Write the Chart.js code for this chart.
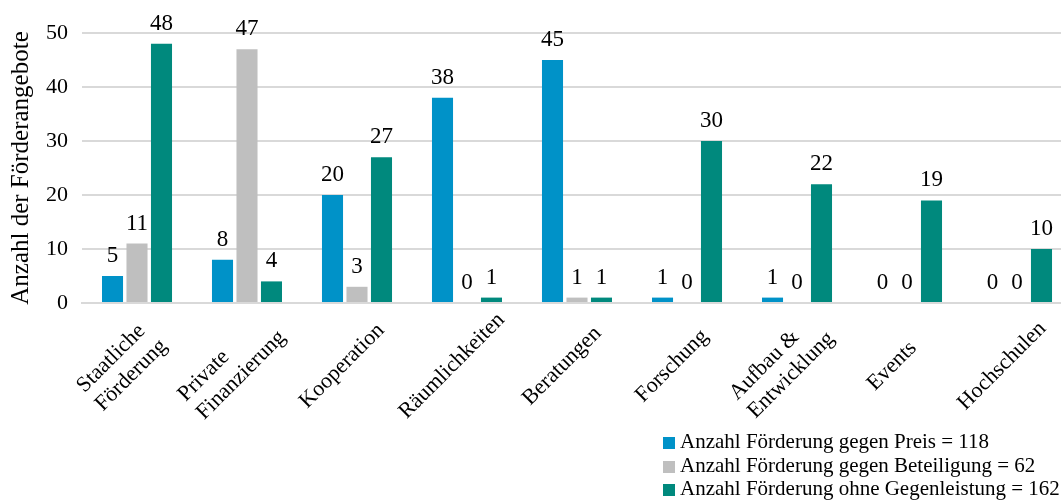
<!DOCTYPE html>
<html>
<head>
<meta charset="utf-8">
<script src="https://cdn.jsdelivr.net/npm/chart.js@4/dist/chart.umd.min.js"></script>
<style>
  html, body { margin: 0; padding: 0; background: #fff; overflow: hidden; }
  #wrap { position: relative; width: 1080px; height: 502px; }
  #legend { position: absolute; left: 663px; top: 430px; font-family: "Liberation Serif", "Times New Roman", serif; font-size: 21px; color: #000; white-space: nowrap; }
  #legend div { height: 23.5px; line-height: 23.5px; }
  #legend span { display: inline-block; width: 12px; height: 12px; margin-right: 5px; vertical-align: -1px; }
</style>
</head>
<body>
<div id="wrap">
  <canvas id="chart"></canvas>
  <div id="legend"></div>
</div>
<script>
// categories on the x axis (multi-line labels as arrays)
const categories = [
  ['Staatliche', 'Förderung'], ['Private', 'Finanzierung'], 'Kooperation', 'Räumlichkeiten',
  'Beratungen', 'Forschung', ['Aufbau &', 'Entwicklung'], 'Events', 'Hochschulen'
]
const gegenPreis       = [5, 8, 20, 38, 45, 1, 1, 0, 0]
const gegenBeteiligung = [11, 47, 3, 0, 1, 0, 0, 0, 0]
const ohneGegenleistung = [48, 4, 27, 1, 1, 30, 22, 19, 10]
const seriesNames = [
  'Anzahl Förderung gegen Preis = 118',
  'Anzahl Förderung gegen Beteiligung = 62',
  'Anzahl Förderung ohne Gegenleistung = 162'
]
const yTicks = [0, 10, 20, 30, 40, 50]
const colors = ['#0092C8', '#BFBFBF', '#00897D']

const FONT = '"Liberation Serif", "Times New Roman", serif'

// value labels above every bar, zeros included
const valueLabels = {
  id: 'valueLabels',
  afterDatasetsDraw(chart){
    const ctx = chart.ctx
    ctx.save()
    ctx.font = '23px ' + FONT
    ctx.fillStyle = '#000'
    ctx.textAlign = 'center'
    ctx.textBaseline = 'alphabetic'
    chart.data.datasets.forEach((ds, i) => {
      chart.getDatasetMeta(i).data.forEach((bar, j) => {
        ctx.fillText(String(ds.data[j]), bar.x, bar.y - 14)
      })
    })
    ctx.restore()
  }
}

// rotated category labels, lines left aligned like the office chart
const xLabels = {
  id: 'xLabels',
  afterDraw(chart){
    const ctx = chart.ctx, xs = chart.scales.x
    const lh = 26
    ctx.save()
    ctx.font = '22px ' + FONT
    ctx.fillStyle = '#000'
    ctx.textAlign = 'left'
    ctx.textBaseline = 'middle'
    categories.forEach((lab, i) => {
      const lines = Array.isArray(lab) ? lab : [lab]
      const w = Math.max(...lines.map(l => ctx.measureText(l).width))
      const h = lines.length * lh
      ctx.save()
      ctx.translate(xs.getPixelForTick(i) - 15, chart.chartArea.bottom + 63)
      ctx.rotate(-Math.PI / 4)
      lines.forEach((l, k) => ctx.fillText(l, -w / 2, -h / 2 + lh / 2 + k * lh))
      ctx.restore()
    })
    ctx.restore()
  }
}

const datasets = [gegenPreis, gegenBeteiligung, ohneGegenleistung].map((d, i) => ({
  label: seriesNames[i], data: d, backgroundColor: colors[i],
  categoryPercentage: 0.668, barPercentage: 0.86
}))

new Chart(document.getElementById('chart'), {
  type: 'bar',
  data: { labels: categories, datasets },
  plugins: [valueLabels, xLabels],
  options: {
    responsive: true, maintainAspectRatio: false, animation: false,
    layout: { padding: { top: 33, right: 8, left: 0, bottom: 0 } },
    plugins: { legend: { display: false }, tooltip: { enabled: false } },
    scales: {
      x: {
        grid: { display: false },
        border: { display: true, color: '#D9D9D9', width: 2 },
        ticks: { display: false },
        afterFit: s => { s.height = 199 }
      },
      y: {
        min: 0, max: 50,
        afterBuildTicks: s => { s.ticks = yTicks.map(v => ({ value: v })) },
        grid: { color: '#D9D9D9', lineWidth: 2, drawTicks: false },
        border: { display: false },
        ticks: { color: '#000', font: { family: FONT, size: 22 }, padding: 14 },
        title: { display: true, text: 'Anzahl der Förderangebote', color: '#000', font: { family: FONT, size: 25 }, padding: { top: 6, bottom: 0 } },
        afterFit: s => { s.width = 82 }
      }
    }
  }
})

// legend, stacked vertically at the bottom right
const legend = document.getElementById('legend')
seriesNames.forEach((name, i) => {
  const row = document.createElement('div')
  row.innerHTML = `<span style="background:${colors[i]}"></span>${name}`
  legend.appendChild(row)
})
</script>
</body>
</html>
